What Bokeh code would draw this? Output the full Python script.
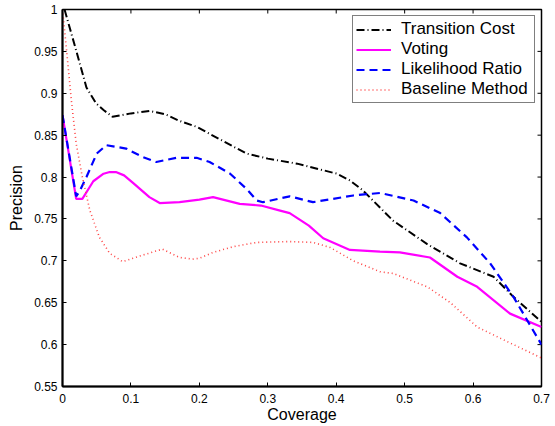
import math
from bokeh.plotting import figure
from bokeh.models import Range1d, FixedTicker, Legend, LegendItem
from bokeh.embed import file_html
from bokeh.resources import INLINE

# ---- data ----
tc_x = [0.003, 0.02, 0.035, 0.049, 0.06, 0.073, 0.10, 0.127, 0.15, 0.171, 0.196, 0.23, 0.269, 0.30, 0.343, 0.401,
        0.42, 0.439, 0.483, 0.533, 0.581, 0.63, 0.659, 0.70]
tc_y = [1.0, 0.951, 0.907, 0.888, 0.880, 0.872, 0.876, 0.879, 0.875, 0.867, 0.860, 0.845, 0.828, 0.822, 0.816, 0.804,
        0.796, 0.784, 0.748, 0.720, 0.697, 0.681, 0.657, 0.627]

vo_x = [0.0, 0.02, 0.029, 0.045, 0.06, 0.069, 0.078, 0.09, 0.103, 0.127, 0.142, 0.171, 0.2, 0.22, 0.259, 0.29, 0.318,
        0.332, 0.36, 0.381, 0.42, 0.464, 0.493, 0.537, 0.577, 0.606, 0.654, 0.70]
vo_y = [0.874, 0.774, 0.774, 0.795, 0.804, 0.806, 0.806, 0.802, 0.793, 0.776, 0.769, 0.770, 0.773, 0.776, 0.768, 0.766,
        0.760, 0.757, 0.742, 0.727, 0.713, 0.711, 0.710, 0.704, 0.681, 0.669, 0.637, 0.621]

lr_x = [0.0, 0.02, 0.025, 0.035, 0.05, 0.064, 0.093, 0.117, 0.137, 0.167, 0.196, 0.215, 0.245, 0.27, 0.284, 0.293,
        0.332, 0.366, 0.425, 0.464, 0.513, 0.552, 0.591, 0.625, 0.659, 0.70]
lr_y = [0.874, 0.777, 0.783, 0.800, 0.828, 0.838, 0.834, 0.824, 0.818, 0.823, 0.823, 0.818, 0.804, 0.785, 0.772, 0.770,
        0.777, 0.770, 0.778, 0.781, 0.772, 0.757, 0.728, 0.697, 0.657, 0.600]

bl_x = [0.0, 0.006, 0.013, 0.02, 0.029, 0.04, 0.054, 0.069, 0.088, 0.11, 0.146, 0.171, 0.19, 0.2, 0.22, 0.25, 0.284,
        0.33, 0.366, 0.391, 0.425, 0.464, 0.483, 0.533, 0.567, 0.606, 0.654, 0.70]
bl_y = [1.0, 0.951, 0.891, 0.840, 0.800, 0.760, 0.728, 0.709, 0.699, 0.705, 0.714, 0.704, 0.702, 0.703, 0.710, 0.717,
        0.722, 0.723, 0.722, 0.716, 0.700, 0.687, 0.685, 0.669, 0.650, 0.621, 0.602, 0.584]

series_names = ["Transition Cost", "Voting", "Likelihood Ratio", "Baseline Method"]

x_ticks = [0.0, 0.1, 0.2, 0.3, 0.4, 0.5, 0.6, 0.7]
x_tick_labels = ["0", "0.1", "0.2", "0.3", "0.4", "0.5", "0.6", "0.7"]
y_ticks = [0.55, 0.6, 0.65, 0.7, 0.75, 0.8, 0.85, 0.9, 0.95, 1.0]
y_tick_labels = ["0.55", "0.6", "0.65", "0.7", "0.75", "0.8", "0.85", "0.9", "0.95", "1"]

X_MIN, X_MAX = 0.0, 0.7
Y_MIN, Y_MAX = 0.55, 1.0

FONT = "Liberation Sans"

p = figure(frame_width=479, frame_height=377,
           x_range=Range1d(X_MIN, X_MAX), y_range=Range1d(Y_MIN, Y_MAX),
           output_backend="svg", toolbar_location=None,
           min_border_left=62, min_border_right=11, min_border_top=9, min_border_bottom=34,
           x_axis_label="Coverage", y_axis_label="Precision")
p.grid.visible = False
p.outline_line_color = "black"
p.outline_line_width = 1.5
p.background_fill_color = "white"
p.border_fill_color = "white"

for ax in (p.xaxis[0], p.yaxis[0]):
    ax.axis_line_width = 2
    ax.axis_line_color = "black"
    ax.major_tick_in = 4
    ax.major_tick_out = 0
    ax.major_tick_line_color = "black"
    ax.minor_tick_line_color = None
    ax.major_label_text_font = FONT
    ax.major_label_text_font_size = "12px"
    ax.major_label_text_color = "black"
    ax.axis_label_text_font = FONT
    ax.axis_label_text_font_size = "16px"
    ax.axis_label_text_font_style = "normal"
    ax.axis_label_text_color = "black"

p.xaxis[0].ticker = FixedTicker(ticks=x_ticks)
p.xaxis[0].major_label_overrides = dict(zip(x_ticks, x_tick_labels))
p.xaxis[0].major_label_standoff = 7
p.xaxis[0].axis_label_standoff = 0
p.yaxis[0].ticker = FixedTicker(ticks=y_ticks)
p.yaxis[0].major_label_overrides = dict(zip(y_ticks, y_tick_labels))
p.yaxis[0].major_label_standoff = 5
p.yaxis[0].axis_label_standoff = 6

# inward ticks on the top and right edges of the box (clipped to the frame)
p.scatter(x=x_ticks, y=[Y_MAX] * len(x_ticks), marker="dash", angle=math.pi / 2, size=8,
          line_color="black", line_width=1)
p.scatter(x=[X_MAX] * len(y_ticks), y=y_ticks, marker="dash", size=8,
          line_color="black", line_width=1)

r_tc = p.line(tc_x, tc_y, line_color="black", line_width=2, line_dash="8 3 1 3")
r_vo = p.line(vo_x, vo_y, line_color="#ff00ff", line_width=2.2)
r_lr = p.line(lr_x, lr_y, line_color="#0000ff", line_width=2.2, line_dash="8 5")
r_bl = p.line(bl_x, bl_y, line_color="#ff4444", line_width=1.6, line_dash="1 3")

legend = Legend(items=[LegendItem(label=n, renderers=[r]) for n, r in
                       zip(series_names, [r_tc, r_vo, r_lr, r_bl])],
                location="top_right", margin=6, padding=3, spacing=0,
                label_height=19, glyph_height=19, glyph_width=35, label_standoff=10,
                label_width=130,
                label_text_font=FONT, label_text_font_size="17px", label_text_color="black",
                border_line_color="black", border_line_width=1.5,
                background_fill_alpha=1.0)
p.add_layout(legend, "center")

open("out.html", "w").write(file_html(p, INLINE))
